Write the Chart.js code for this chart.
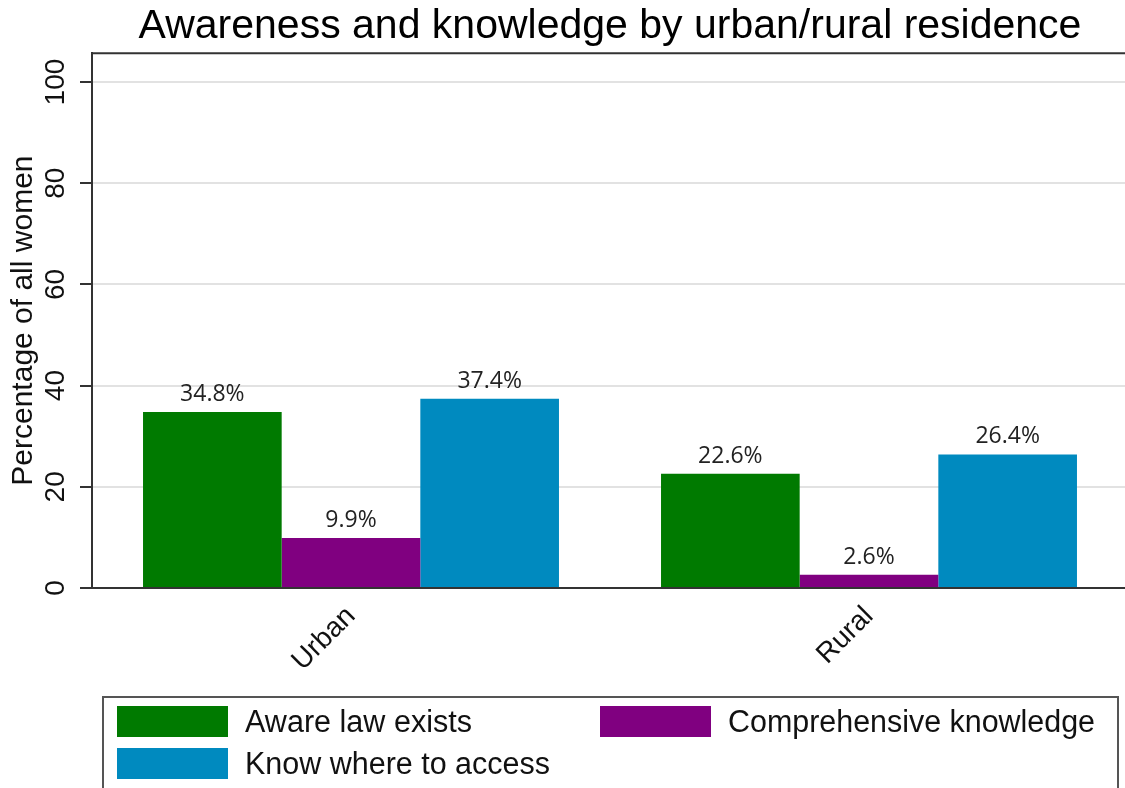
<!DOCTYPE html>
<html>
<head>
<meta charset="utf-8">
<script src="https://cdn.jsdelivr.net/npm/chart.js@4/dist/chart.umd.min.js"></script>
<style>
  html, body { margin:0; padding:0; background:#fff; overflow:hidden }
  canvas { display:block }
</style>
</head>
<body>
<canvas id="c" width="1130" height="788"></canvas>
<script>
const categories = ['Urban', 'Rural']
const seriesNames = ['Aware law exists', 'Comprehensive knowledge', 'Know where to access']
const awareLaw = [34.8, 22.6]
const comprehensive = [9.9, 2.6]
const knowWhere = [37.4, 26.4]
const yTicks = [0, 20, 40, 60, 80, 100]
const colors = ['#007a00', '#800080', '#008abf']

const FONT = '"Liberation Sans", Arial, sans-serif'

// value labels above bars, y tick labels, y title, frame line, legend box
const extras = {
  id:'extras',
  afterDraw(chart){
    const ctx = chart.ctx, ca = chart.chartArea, y = chart.scales.y
    ctx.save()
    // top frame line
    ctx.strokeStyle = '#333'; ctx.lineWidth = 2
    ctx.beginPath(); ctx.moveTo(ca.left - 1, ca.top); ctx.lineTo(ca.right + 10, ca.top); ctx.stroke()
    // y tick labels, rotated
    ctx.fillStyle = '#111'; ctx.font = '28px ' + FONT
    ctx.textAlign = 'center'; ctx.textBaseline = 'middle'
    yTicks.forEach(v=>{
      ctx.save(); ctx.translate(56, y.getPixelForValue(v)); ctx.rotate(-Math.PI/2)
      ctx.fillText(String(v), 0, 0); ctx.restore()
    })
    // y title
    ctx.save(); ctx.translate(24, (ca.top + ca.bottom)/2); ctx.rotate(-Math.PI/2)
    ctx.font = '30px ' + FONT; ctx.fillText('Percentage of all women', 0, 0); ctx.restore()
    // bar value labels
    ctx.font = '23px "Open Sans", sans-serif'; ctx.fillStyle = '#222'
    ctx.textBaseline = 'alphabetic'
    chart.data.datasets.forEach((ds, i)=>{
      chart.getDatasetMeta(i).data.forEach((bar, j)=>{
        ctx.fillText(ds.data[j].toFixed(1) + '%', bar.x, bar.y - 11)
      })
    })
    // legend
    ctx.strokeStyle = '#555'; ctx.lineWidth = 2
    ctx.strokeRect(103, 697, 1015, 100)
    const slots = [[117, 706], [600, 706], [117, 748]]
    ctx.font = '31px ' + FONT; ctx.textAlign = 'left'; ctx.textBaseline = 'middle'
    chart.data.datasets.forEach((ds, i)=>{
      const [sx, sy] = slots[i]
      ctx.fillStyle = ds.backgroundColor
      ctx.fillRect(sx, sy, 111, 31)
      ctx.fillStyle = '#111'
      const maxW = i === 1 ? 367 : (i === 0 ? 227 : 305)
      ctx.fillText(ds.label, sx + 128, sy + 17, maxW)
    })
    ctx.restore()
  }
}

new Chart(document.getElementById('c'), {
  type:'bar',
  data:{
    labels: categories,
    datasets:[
      { label: seriesNames[0], data: awareLaw, backgroundColor: colors[0] },
      { label: seriesNames[1], data: comprehensive, backgroundColor: colors[1] },
      { label: seriesNames[2], data: knowWhere, backgroundColor: colors[2] }
    ]
  },
  options:{
    responsive:false,
    animation:false,
    devicePixelRatio:1,
    layout:{ padding:{ left:0, right:2, top:0, bottom:0 } },
    datasets:{ bar:{ barPercentage:1, categoryPercentage:0.803 } },
    plugins:{
      legend:{ display:false },
      tooltip:{ enabled:false },
      title:{ display:true, fullSize:false, text:'Awareness and knowledge by urban/rural residence',
        color:'#000', font:{ family:FONT, size:41, weight:'normal' }, padding:{ top:2, bottom:2 } }
    },
    scales:{
      x:{
        grid:{ display:false },
        border:{ display:true, color:'#333', width:2 },
        ticks:{ color:'#111', font:{ family:FONT, size:28 }, minRotation:45, maxRotation:45, padding:4 },
        afterFit(s){ s.height = 200 }
      },
      y:{
        min:0, max:105.7,
        afterBuildTicks(s){ s.ticks = yTicks.map(v=>({ value:v })) },
        ticks:{ display:false, includeBounds:false },
        grid:{ color: c => c.tick && c.tick.value === 0 ? '#333' : '#e2e2e2', lineWidth:2, tickLength:12, tickColor:'#333' },
        border:{ display:true, color:'#333', width:2 },
        afterFit(s){ s.width = 92 }
      }
    }
  },
  plugins:[extras]
})
</script>
</body>
</html>
